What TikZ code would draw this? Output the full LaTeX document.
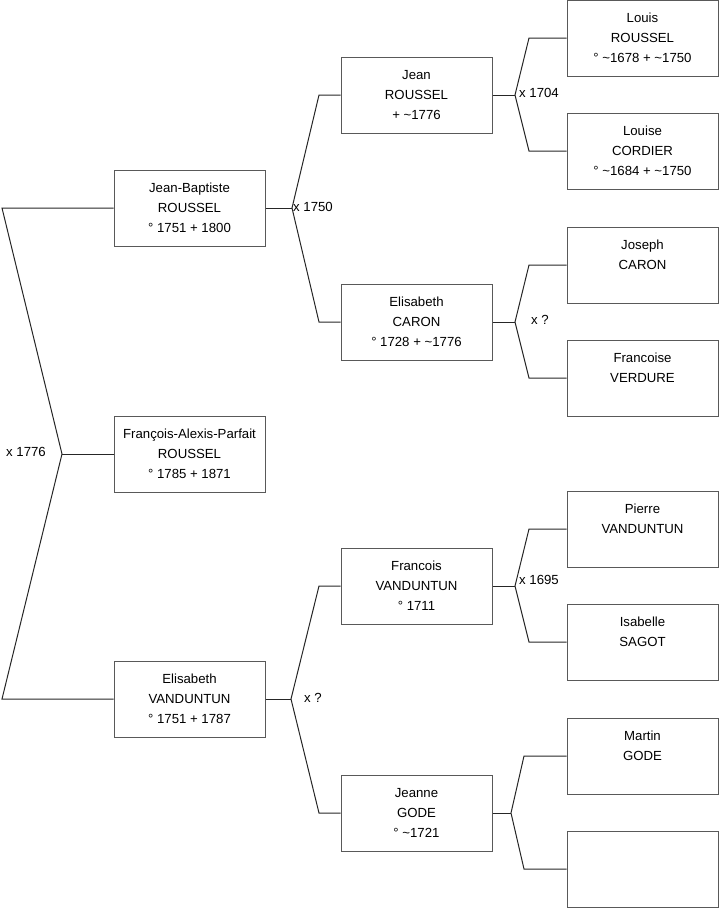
\documentclass[tikz,border=0pt]{standalone}
\usepackage{fontspec}
\setmainfont{Liberation Sans}
\newcommand{\ca}{\textasciitilde}

\begin{document}
\begin{tikzpicture}[
  x=1pt, y=-1pt,
  person/.style={rectangle, draw=black!65, line width=1pt, align=center, minimum width=151pt, minimum height=76pt, inner sep=0pt, font=\fontsize{13.2}{20}\selectfont},
  link/.style={draw=black!85, line width=1pt},
  union/.style={inner sep=0pt, font=\fontsize{13.2}{20}\selectfont}
]
\useasboundingbox (0,0) rectangle (719,908);

% children
\node[person] (jb)  at (189.5,208) {Jean-Baptiste\\ROUSSEL\\° 1751 + 1800};
\node[person] (fap) at (189.5,454) {François-Alexis-Parfait\\ROUSSEL\\° 1785 + 1871};
\node[person] (ev)  at (189.5,699) {Elisabeth\\VANDUNTUN\\° 1751 + 1787};

% parents
\node[person] (jean)   at (416.5,95)  {Jean\\ROUSSEL\\+ \ca1776};
\node[person] (ecaron) at (416.5,322) {Elisabeth\\CARON\\° 1728 + \ca1776};
\node[person] (fvan)   at (416.5,586) {Francois\\VANDUNTUN\\° 1711};
\node[person] (jgode)  at (416.5,813) {Jeanne\\GODE\\° \ca1721};

% grandparents
\node[person] (louis)    at (642.5,38)  {Louis\\ROUSSEL\\° \ca1678 + \ca1750};
\node[person] (louise)   at (642.5,151) {Louise\\CORDIER\\° \ca1684 + \ca1750};
\node[person] (joseph)   at (642.5,265) {Joseph\\CARON\\\mbox{}};
\node[person] (francoise) at (642.5,378) {Francoise\\VERDURE\\\mbox{}};
\node[person] (pierre)   at (642.5,529) {Pierre\\VANDUNTUN\\\mbox{}};
\node[person] (isabelle) at (642.5,642) {Isabelle\\SAGOT\\\mbox{}};
\node[person] (martin)   at (642.5,756) {Martin\\GODE\\\mbox{}};
\node[person] (unknown)  at (642.5,869) {};

% unions
\coordinate (u0) at (62,454);
\coordinate (u0a) at (2,208);
\coordinate (u0b) at (2,699);
\coordinate (u1) at (292,208);
\coordinate (u1a) at (319,95);
\coordinate (u1b) at (319,322);
\coordinate (u2) at (291,699);
\coordinate (u2a) at (319,586);
\coordinate (u2b) at (319,813);
\coordinate (u3) at (515,95);
\coordinate (u3a) at (529,38);
\coordinate (u3b) at (529,151);
\coordinate (u4) at (515,322);
\coordinate (u4a) at (529,265);
\coordinate (u4b) at (529,378);
\coordinate (u5) at (515,586);
\coordinate (u5a) at (529,529);
\coordinate (u5b) at (529,642);
\coordinate (u6) at (511,813);
\coordinate (u6a) at (524,756);
\coordinate (u6b) at (524,869);

\draw[link] (jb) -- (u0a) -- (u0) -- (u0b) -- (ev);
\draw[link] (u0) -- (fap);
\draw[link] (jb) -- (u1);
\draw[link] (jean) -- (u1a) -- (u1) -- (u1b) -- (ecaron);
\draw[link] (ev) -- (u2);
\draw[link] (fvan) -- (u2a) -- (u2) -- (u2b) -- (jgode);
\draw[link] (jean) -- (u3);
\draw[link] (louis) -- (u3a) -- (u3) -- (u3b) -- (louise);
\draw[link] (ecaron) -- (u4);
\draw[link] (joseph) -- (u4a) -- (u4) -- (u4b) -- (francoise);
\draw[link] (fvan) -- (u5);
\draw[link] (pierre) -- (u5a) -- (u5) -- (u5b) -- (isabelle);
\draw[link] (jgode) -- (u6);
\draw[link] (martin) -- (u6a) -- (u6) -- (u6b) -- (unknown);

% marriage dates
\node[union, anchor=east] (m0) at (46,452) {x 1776};
\node[union, anchor=west] (m1) at (293,207) {x 1750};
\node[union, anchor=west] (m2) at (304,698) {x ?};
\node[union, anchor=west] (m3) at (519,93) {x 1704};
\node[union, anchor=west] (m4) at (531,320) {x ?};
\node[union, anchor=west] (m5) at (519,580) {x 1695};
\end{tikzpicture}
\end{document}
